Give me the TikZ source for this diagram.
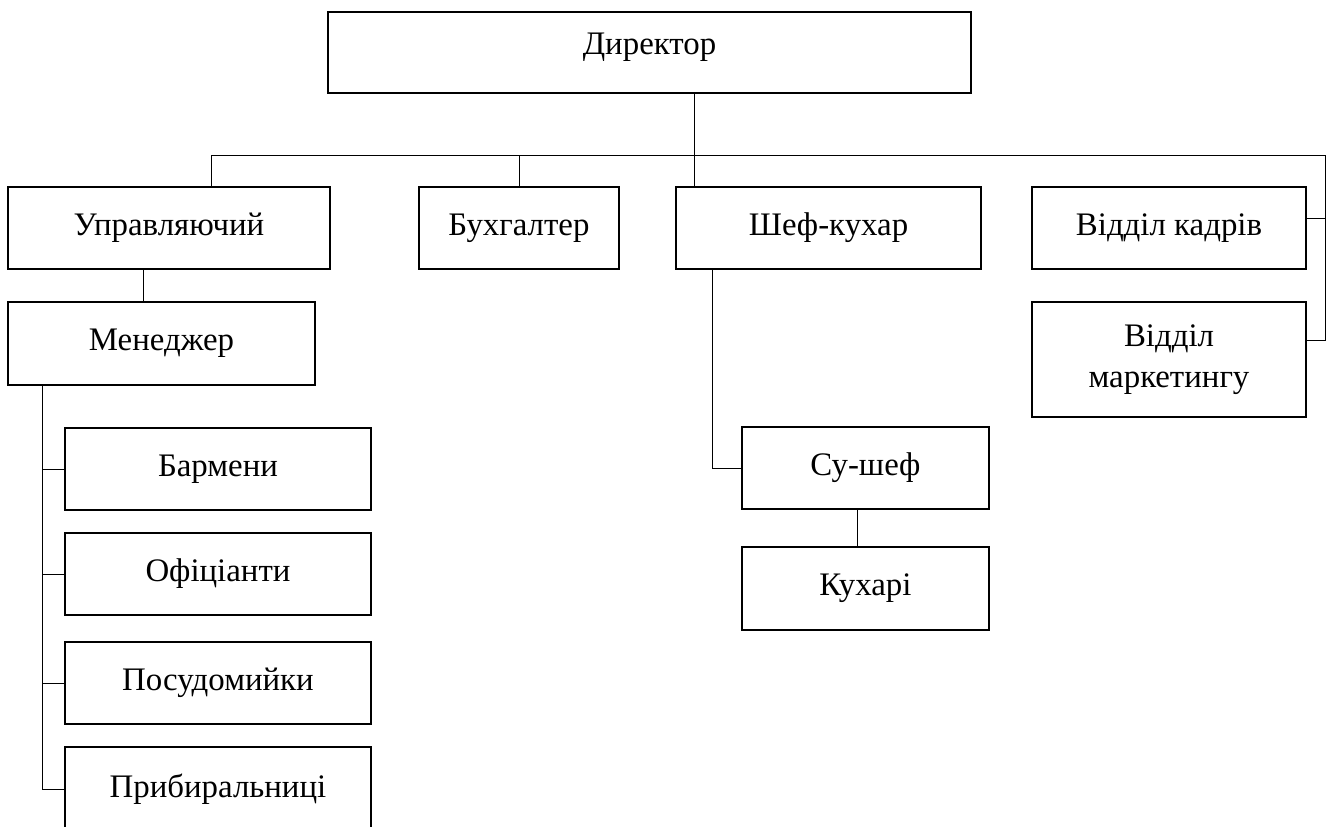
\documentclass[tikz,border=0pt]{standalone}
\usepackage{fontspec}
\setmainfont{Liberation Serif}
\usepackage{tikz}
\tikzstyle{unit} = [rectangle, draw, line width=0.9pt, text centered, inner sep=2pt, font=\fontsize{18.7}{23}\selectfont]
\tikzstyle{dirbox} = [unit, inner sep=0pt, text height=0.84cm, text depth=0.78cm, minimum width=12.86cm]
\tikzstyle{staff} = [unit, minimum width=6.12cm, minimum height=1.64cm]
\tikzstyle{link} = [line width=0.5pt]

\begin{document}
\begin{tikzpicture}[node distance=2cm]
\useasboundingbox (0,0) rectangle (26.66,-16.54);

\node (dir)   [dirbox] at (12.99,-1.05)                                         {Директор};
\node (upr)   [unit, minimum width=6.44cm, minimum height=1.64cm] at (3.38,-4.56) {Управляючий};
\node (buh)   [unit, minimum width=4cm, minimum height=1.64cm, right of=upr, xshift=5cm]     {Бухгалтер};
\node (shef)  [unit, minimum width=6.1cm, minimum height=1.64cm, right of=buh, xshift=4.19cm] {Шеф-кухар};
\node (kadry) [unit, minimum width=5.48cm, minimum height=1.64cm, right of=shef, xshift=4.81cm] {Відділ кадрів};
\node (mark)  [unit, minimum width=5.48cm, minimum height=2.3cm, align=center, below of=kadry, yshift=-0.63cm] {Відділ\\маркетингу};
\node (men)   [unit, minimum width=6.14cm, minimum height=1.66cm, below of=upr, xshift=-0.15cm, yshift=-0.31cm] {Менеджер};
\node (bar)   [staff, below of=men, xshift=1.13cm, yshift=-0.51cm] {Бармени};
\node (ofic)  [staff, below of=bar, yshift=-0.1cm]    {Офіціанти};
\node (posud) [staff, below of=ofic, yshift=-0.18cm]  {Посудомийки};
\node (prib)  [staff, minimum height=1.68cm, below of=posud, yshift=-0.12cm] {Прибиральниці};
\node (sous)  [unit, minimum width=4.94cm, minimum height=1.64cm, below of=shef, xshift=0.74cm, yshift=-2.8cm] {Су-шеф};
\node (cooks) [unit, minimum width=4.94cm, minimum height=1.66cm, below of=sous, yshift=-0.41cm] {Кухарі};

\coordinate (bl) at (4.22,-3.10);
\coordinate (br) at (26.50,-3.10);

\draw [link] (upr.north -| bl) -- (bl) -- (br) |- (mark.east |- 0,-6.80);
\draw [link] (kadry.east |- 0,-4.36) -- (br |- 0,-4.36);
\draw [link] (buh.north) -- (buh.north |- bl);
\draw [link] (dir.south -| 13.88,0) -- (shef.north -| 13.88,0);
\draw [link] (upr.south -| 2.86,0) -- (men.north -| 2.86,0);
\draw [link] (men.south -| 0.84,0) -- (prib.west -| 0.84,0);
\foreach \n in {bar, ofic, posud, prib}
  \draw [link] (\n.west) -- (\n.west -| 0.84,0);
\draw [link] (shef.south -| 14.24,0) |- (sous.west);
\draw [link] (sous.south -| 17.14,0) -- (cooks.north -| 17.14,0);

\end{tikzpicture}
\end{document}
